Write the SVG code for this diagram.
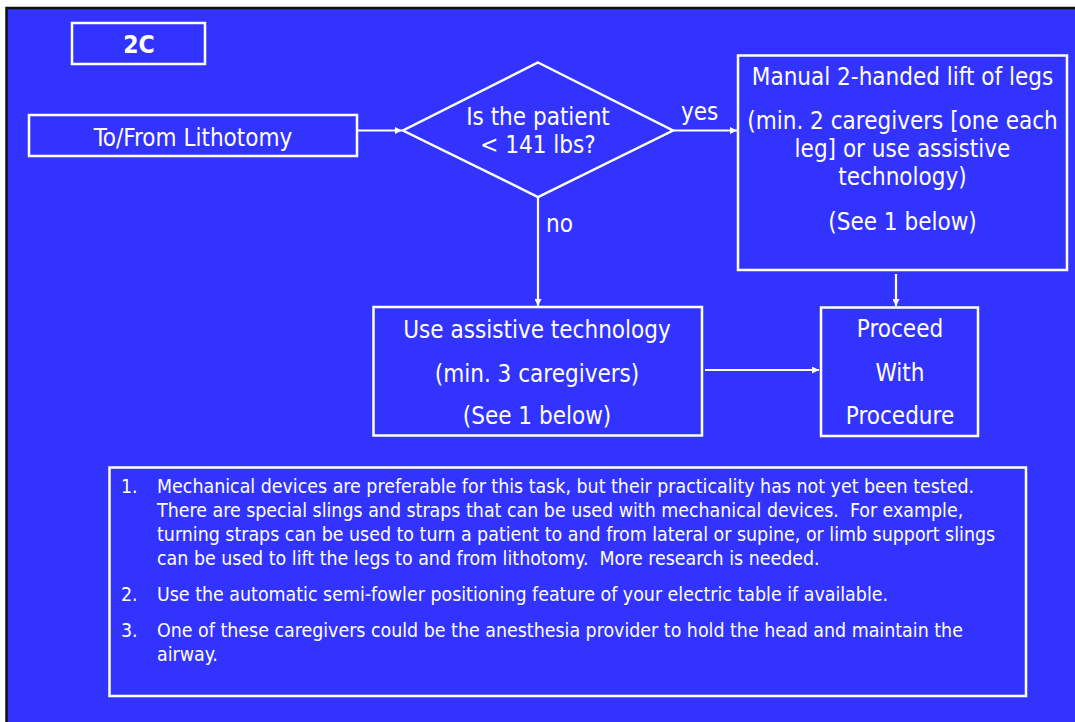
<svg xmlns="http://www.w3.org/2000/svg" width="1075" height="722" viewBox="0 0 1075 722">
  <style>
    .box { fill: none; stroke: #ffffff; stroke-width: 2.5; }
    .link { fill: none; stroke: #ffffff; stroke-width: 2.2; }
    text { fill: #ffffff; font-family: "DejaVu Sans Condensed", "Liberation Sans", sans-serif; white-space: pre; }
    .t { font-size: 24px; text-anchor: middle; }
    .lbl { font-size: 24px; }
    .note { font-size: 19.4px; }
    .title { font-size: 24.5px; font-weight: bold; text-anchor: middle; }
  </style>
  <defs>
    <marker id="arrow" viewBox="0 0 10 10" refX="10" refY="5" markerWidth="9" markerHeight="7" markerUnits="userSpaceOnUse" orient="auto">
      <path d="M0,0 L10,5 L0,10 Z" fill="#ffffff"/>
    </marker>
  </defs>

  <!-- page background with dark frame -->
  <rect x="0" y="0" width="1075" height="722" fill="#ffffff"/>
  <rect x="6.5" y="8" width="1080" height="730" fill="#3333ff" stroke="#111111" stroke-width="2.5"/>

  <!-- connectors -->
  <g id="connectors">
    <line class="link" x1="357" y1="130.5" x2="402" y2="130.5" marker-end="url(#arrow)"/>
    <line class="link" x1="673" y1="130.5" x2="737" y2="130.5" marker-end="url(#arrow)"/>
    <line class="link" x1="538" y1="197" x2="538" y2="306" marker-end="url(#arrow)"/>
    <line class="link" x1="896" y1="274" x2="896" y2="306" marker-end="url(#arrow)"/>
    <line class="link" x1="705" y1="370" x2="819" y2="370" marker-end="url(#arrow)"/>
    <text class="lbl" x="681" y="120">yes</text>
    <text class="lbl" x="546" y="232">no</text>
  </g>

  <g id="label-2c">
    <rect class="box" x="72" y="23" width="133" height="41"/>
    <text class="title" x="139" y="53">2C</text>
  </g>

  <g id="start">
    <rect class="box" x="29" y="115" width="328" height="41"/>
    <text class="t" x="193" y="146">To/From Lithotomy</text>
  </g>

  <g id="decision">
    <polygon class="box" points="538,62.5 673,130.5 538,197 403,130.5"/>
    <text class="t" x="538" y="125">Is the patient</text>
    <text class="t" x="538" y="153">&lt; 141 lbs?</text>
  </g>

  <g id="manual-lift">
    <rect class="box" x="738" y="55.5" width="329" height="214.5"/>
    <text class="t" x="902.5" y="85">Manual 2-handed lift of legs</text>
    <text class="t" x="902.5" y="129">(min. 2 caregivers [one each</text>
    <text class="t" x="902.5" y="157">leg] or use assistive</text>
    <text class="t" x="902.5" y="185">technology)</text>
    <text class="t" x="902.5" y="230">(See 1 below)</text>
  </g>

  <g id="assistive">
    <rect class="box" x="373.5" y="307" width="328.5" height="128.5"/>
    <text class="t" x="537" y="338">Use assistive technology</text>
    <text class="t" x="537" y="382">(min. 3 caregivers)</text>
    <text class="t" x="537" y="424">(See 1 below)</text>
  </g>

  <g id="proceed">
    <rect class="box" x="821" y="307.5" width="157" height="128.5"/>
    <text class="t" x="900" y="337">Proceed</text>
    <text class="t" x="900" y="381">With</text>
    <text class="t" x="900" y="424">Procedure</text>
  </g>

  <g id="notes">
    <rect class="box" x="109.5" y="467.5" width="916.5" height="228.5"/>
    <text class="note" x="121" y="493">1.</text>
    <text class="note" x="157" y="493">Mechanical devices are preferable for this task, but their practicality has not yet been tested.</text>
    <text class="note" x="157" y="517">There are special slings and straps that can be used with mechanical devices.  For example,</text>
    <text class="note" x="157" y="541">turning straps can be used to turn a patient to and from lateral or supine, or limb support slings</text>
    <text class="note" x="157" y="565">can be used to lift the legs to and from lithotomy.  More research is needed.</text>
    <text class="note" x="121" y="601">2.</text>
    <text class="note" x="157" y="601">Use the automatic semi-fowler positioning feature of your electric table if available.</text>
    <text class="note" x="121" y="637">3.</text>
    <text class="note" x="157" y="637">One of these caregivers could be the anesthesia provider to hold the head and maintain the</text>
    <text class="note" x="157" y="661">airway.</text>
  </g>
</svg>
